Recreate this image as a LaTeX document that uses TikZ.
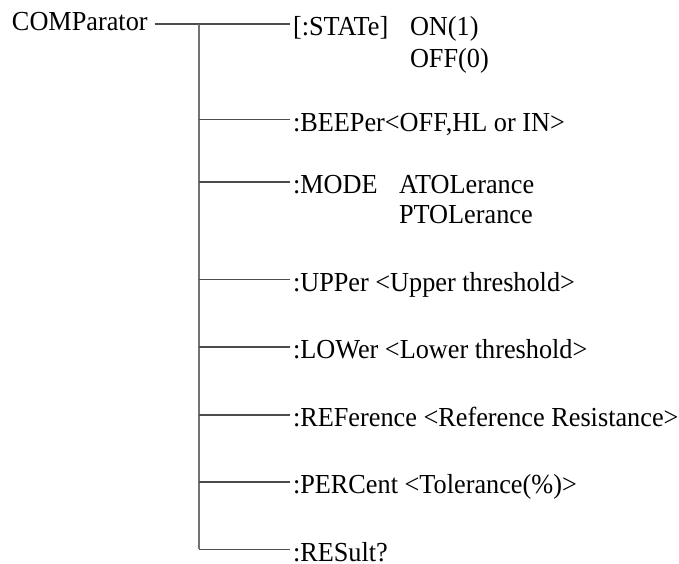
\documentclass[tikz,border=0pt]{standalone}
\usepackage{fontspec}
\setmainfont[FakeStretch=0.955]{Liberation Serif}
\begin{document}
\begin{tikzpicture}[x=1pt,y=-1pt,
  lbl/.style={inner sep=0pt, outer sep=3pt, anchor=base west, font=\fontsize{27.5}{31}\selectfont, text=black},
  trunk/.style={draw=black!55, line width=1.6pt},
  branch/.style={draw=black!70, line width=1.1pt}]
\useasboundingbox (0,0) rectangle (679,563);
% trunk coordinates
\coordinate (t1) at (199,24);
\coordinate (t2) at (199,119.5);
\coordinate (t3) at (199,182);
\coordinate (t4) at (199,279.5);
\coordinate (t5) at (199,347);
\coordinate (t6) at (199,415);
\coordinate (t7) at (199,482);
\coordinate (t8) at (199,549.3);
% texts
\node[lbl, outer sep=0pt] (comp) at (12,30.7) {COMParator};
\node[lbl] (s1) at (290,35.9) {[:STATe]};
\node[lbl] (s1a) at (407,35.9) {ON(1)};
\node[lbl] (s1b) at (407,67.6) {OFF(0)};
\node[lbl] (s2) at (290,131.2) {:BEEPer<OFF,HL or IN>};
\node[lbl] (s3) at (290,193.7) {:MODE};
\node[lbl] (s3a) at (396,193.7) {ATOLerance};
\node[lbl] (s3b) at (396,223.7) {PTOLerance};
\node[lbl] (s4) at (290,291.2) {:UPPer <Upper threshold>};
\node[lbl] (s5) at (290,358.7) {:LOWer <Lower threshold>};
\node[lbl] (s6) at (290,426.7) {:REFerence <Reference Resistance>};
\node[lbl] (s7) at (290,493.7) {:PERCent <Tolerance(\%)>};
\node[lbl] (s8) at (290,561) {:RESult?};
% connectors
\draw[branch] ([xshift=7pt]comp.east |- t1) -- (t1);
\draw[trunk] (t1) -- (t8);
\draw[branch] (t1) -- (t1 -| s1.west);
\draw[branch] (t2) -- (t2 -| s2.west);
\draw[branch] (t3) -- (t3 -| s3.west);
\draw[branch] (t4) -- (t4 -| s4.west);
\draw[branch] (t5) -- (t5 -| s5.west);
\draw[branch] (t6) -- (t6 -| s6.west);
\draw[branch] (t7) -- (t7 -| s7.west);
\draw[branch] (t8) -- (t8 -| s8.west);
\end{tikzpicture}
\end{document}
